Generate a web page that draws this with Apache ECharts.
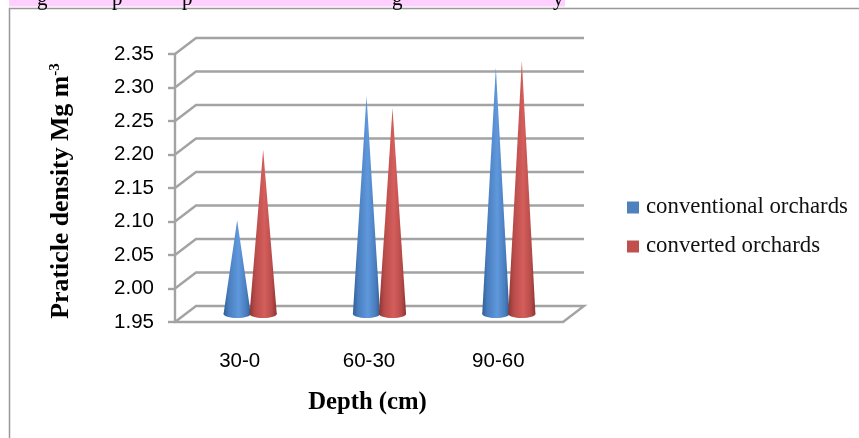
<!DOCTYPE html>
<html><head><meta charset="utf-8">
<style>html,body{margin:0;padding:0;background:#fff}#c{width:859px;height:438px}</style>
<script src="https://cdn.jsdelivr.net/npm/echarts@6/dist/echarts.min.js"></script>
</head><body><div id="c"></div>
<script>
const categories = ['30-0', '60-30', '90-60'];
const conventional = [2.09, 2.275, 2.318];
const converted = [2.195, 2.257, 2.328];
const yTicks = [1.95, 2.00, 2.05, 2.10, 2.15, 2.20, 2.25, 2.30, 2.35];
const clippedCaptionLetters = [['g', 37], ['p', 112], ['p', 182], ['g', 392], ['y', 553]];

const DX = 21, DY = -16, OFF = 13, HALF = 13.6, RY = 4, BASE = 1.95;
const serif = '"Liberation Serif"', sans = '"Liberation Sans"';

function shade(dark, mid, edge) {
  return new echarts.graphic.LinearGradient(0, 0, 1, 0, [
    {offset: 0, color: edge}, {offset: 0.2, color: dark}, {offset: 0.55, color: mid},
    {offset: 0.82, color: dark}, {offset: 1, color: edge}
  ]);
}
function coneSeries(name, values, sign, flat, fill) {
  return {
    type: 'custom', name, z: 5, clip: false,
    itemStyle: {color: flat},
    data: values.map((v, i) => [i, v]),
    renderItem(p, api) {
      const top = api.coord([api.value(0), api.value(1)]);
      const bot = api.coord([api.value(0), BASE]);
      const cx = top[0] + DX / 2 + sign * OFF;
      const by = bot[1] + DY / 2;
      const ty = top[1] + DY / 2;
      return {type: 'group', children: [
        {type: 'ellipse', shape: {cx, cy: by, rx: HALF, ry: RY}, style: {fill}},
        {type: 'polygon', shape: {points: [[cx, ty], [cx + HALF, by], [cx - HALF, by]]}, style: {fill}}
      ]};
    }
  };
}
const gridSeries = {
  type: 'custom', z: 1, clip: false, silent: true, legendHoverLink: false,
  encode: {y: 0},
  data: yTicks.map(v => [v]),
  renderItem(p, api) {
    const cs = p.coordSys;
    const y = api.coord([0, api.value(0)])[1];
    const points = [[cs.x, y], [cs.x + DX, y + DY], [cs.x + cs.width + DX, y + DY]];
    if (api.value(0) === BASE) points.push([cs.x + cs.width, y]);
    return {type: 'polyline', shape: {points}, style: {stroke: '#a3a3a3', lineWidth: 2.4, fill: null}};
  }
};

const chart = echarts.init(document.getElementById('c'), null, {renderer: 'canvas'});
chart.setOption({
  animation: false,
  backgroundColor: '#fff',
  grid: {left: 175, top: 54, width: 388, height: 268, containLabel: false},
  legend: {
    left: 627, top: 196, padding: 0, orient: 'vertical', icon: 'rect', itemWidth: 12, itemHeight: 12, itemGap: 16,
    data: ['conventional orchards', 'converted orchards'],
    textStyle: {fontFamily: serif, fontSize: 22.8, color: '#111', padding: [0, 0, 0, 2]}
  },
  xAxis: {
    type: 'category', data: categories, boundaryGap: true,
    name: 'Depth (cm)', nameLocation: 'middle', nameGap: 68,
    nameTextStyle: {fontFamily: serif, fontWeight: 'bold', fontSize: 24.7, color: '#000', padding: [0, 3, 0, 0]},
    axisLine: {lineStyle: {color: '#a3a3a3', width: 2.4}},
    axisTick: {show: false},
    axisLabel: {fontFamily: sans, fontSize: 20.5, color: '#000', margin: 29},
    splitLine: {show: false}
  },
  yAxis: {
    type: 'value', min: 1.95, max: 2.35, interval: 0.05,
    name: '{a|Praticle density Mg m}{s|-3}', nameLocation: 'middle', nameRotate: 90, nameGap: 101,
    nameTextStyle: {
      fontFamily: serif, fontWeight: 'bold', fontSize: 25.8, color: '#000', padding: [0, 6, 0, 0],
      rich: {
        a: {fontFamily: serif, fontWeight: 'bold', fontSize: 25.8, color: '#000'},
        s: {fontFamily: serif, fontWeight: 'bold', fontSize: 15, color: '#000', verticalAlign: 'top', lineHeight: 24}
      }
    },
    axisLine: {show: true, lineStyle: {color: '#a3a3a3', width: 2.4}},
    axisTick: {show: true, length: 7, lineStyle: {color: '#a3a3a3', width: 2.4}},
    axisLabel: {fontFamily: sans, fontSize: 20.5, color: '#000', margin: 21, formatter: v => v.toFixed(2)},
    splitLine: {show: false}
  },
  graphic: [
    {type: 'rect', shape: {x: 9, y: 0, width: 556, height: 6.5}, style: {fill: '#ffd0ff'}, z: 0},
    {type: 'rect', shape: {x: 9.5, y: 8.5, width: 900, height: 500}, style: {fill: 'none', stroke: '#999', lineWidth: 1.5}, z: 0}
  ].concat(clippedCaptionLetters.map(([ch, x]) => ({
    type: 'text', x, y: -11, z: 1,
    style: {text: ch, fontFamily: serif, fontSize: 21, fill: '#000'}
  }))),
  series: [
    gridSeries,
    coneSeries('conventional orchards', conventional, -1, '#4f81bd', shade('#4a7fc0', '#5f98dc', '#2f5f96')),
    coneSeries('converted orchards', converted, 1, '#c0504d', shade('#b84c4a', '#d45e5c', '#8e3432'))
  ]
});
</script></body></html>
